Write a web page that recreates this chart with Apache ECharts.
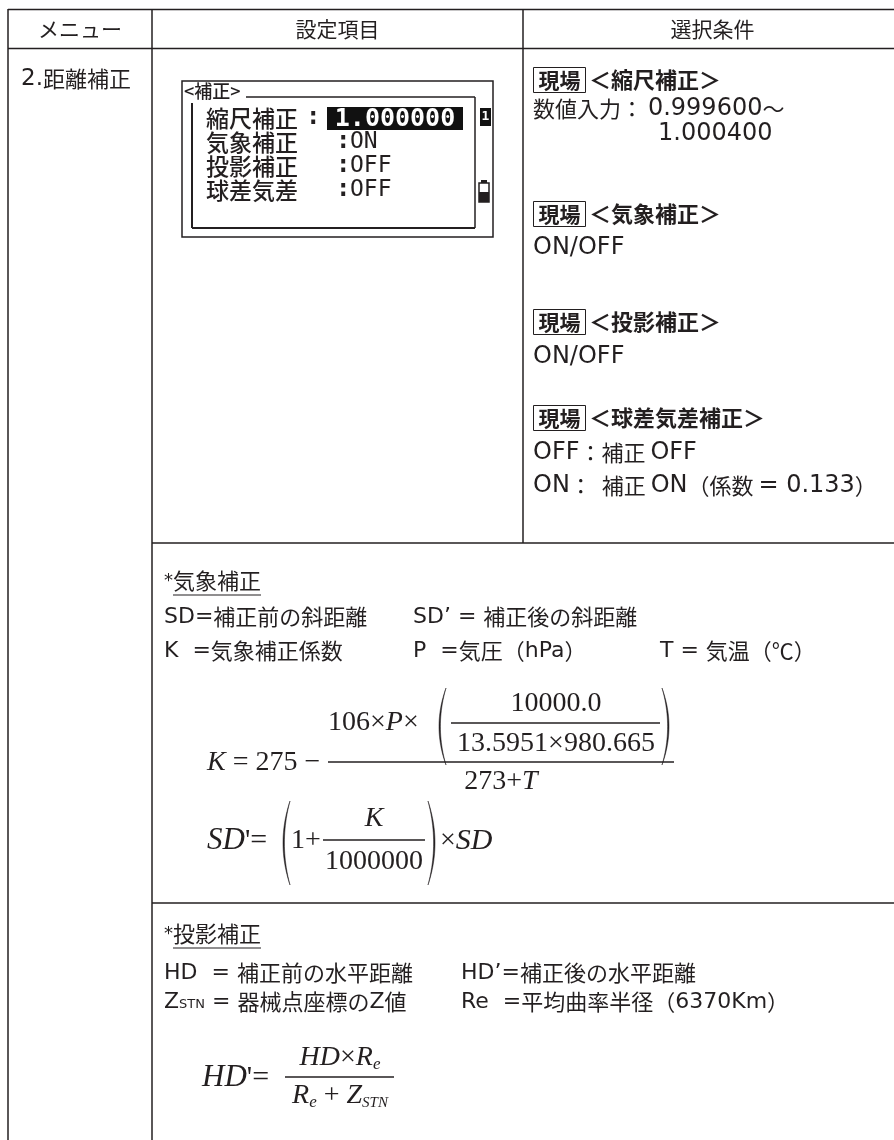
<!DOCTYPE html>
<html><head><meta charset="utf-8">
<script src="https://cdn.jsdelivr.net/npm/echarts@6/dist/echarts.min.js"></script>
<style>html,body{margin:0;padding:0;background:#fff}#c{width:894px;height:1140px}</style>
</head><body><div id="c"></div>
<script>
// ---------- content (text data) ----------
const headers = ['メニュー', '設定項目', '選択条件'];
const menuItems = ['2.距離補正'];
const lcdTitle = '<補正>';
const lcdLabels = ['縮尺補正', '気象補正', '投影補正', '球差気差'];
const lcdValues = ['1.000000', 'ON', 'OFF', 'OFF'];
const condTag = '現場';
const condTitles = ['＜縮尺補正＞', '＜気象補正＞', '＜投影補正＞', '＜球差気差補正＞'];
const condLines = [
  ['数値入力： 0.999600～', '1.000400'],
  ['ON/OFF'],
  ['ON/OFF'],
  ['OFF：補正 OFF', 'ON：  補正 ON（係数 = 0.133）']
];
const atmoTitle = ['*', '気象補正'];
const atmoDefs = [
  ['SD=補正前の斜距離', 'SD’ = 補正後の斜距離', ''],
  ['K  =気象補正係数', 'P  =気圧（hPa）', 'T = 気温（℃）']
];
const projTitle = ['*', '投影補正'];
const projDefs = [
  ['HD  = 補正前の水平距離', 'HD’=補正後の水平距離'],
  ['Z|STN| = 器械点座標のZ値', 'Re  =平均曲率半径（6370Km）']
];
const kFormula = { lhs: ['K', ' = 275 − '], pre: ['106×', 'P', '×'], num: '10000.0', den: '13.5951×980.665', bottom: ['273+', 'T'] };
const sdFormula = { lhs: ['SD', '\'', '='], one: '1+', num: 'K', den: '1000000', post: ['×', 'SD'] };
const hdFormula = { lhs: ['HD', '\'', '='] };

// ---------- drawing helpers ----------
const INK = '#231f20';
const ctx = document.createElement('canvas').getContext('2d');
function tw(t, f) { ctx.font = f; return ctx.measureText(t).width; }
const CJK = /[\u2100-\u214f\u3000-\u9fff\uff00-\uffef]/;
const JF = (s, w) => (w || 'normal') + ' ' + s + 'px "Noto Sans CJK JP"';
const LF = (s) => 'normal ' + s + 'px "DejaVu Sans"';
const RM = (s) => s + 'px "Liberation Serif"';
const IT = (s) => 'italic ' + s + 'px "Liberation Serif"';

function mixed(str, js, ls, w) {
  const segs = []; let cur = '', curC = null;
  for (const ch of str) {
    const c = CJK.test(ch) || (ch === ' ' && curC === true);
    if (curC !== null && c !== curC) { segs.push({ t: cur, f: curC ? JF(js, w) : LF(ls) }); cur = ''; }
    cur += ch; curC = c;
  }
  if (cur) segs.push({ t: cur, f: curC ? JF(js, w) : LF(ls) });
  return segs;
}
function seq(segs, x, y, align) {
  const ws = segs.map(s => tw(s.t, s.f));
  const total = ws.reduce((a, b) => a + b, 0);
  const left = align === 'center' ? x - total / 2 : align === 'right' ? x - total : x;
  let cx = left;
  const els = [];
  segs.forEach((s, i) => {
    els.push({ type: 'text', x: cx, y: y + (s.dy || 0), style: { text: s.t, font: s.f, fill: s.fill || INK, align: 'left', verticalAlign: 'middle' } });
    cx += ws[i];
  });
  els.width = total; els.left = left;
  return els;
}
function line(x1, y1, x2, y2, lw) { return { type: 'line', shape: { x1, y1, x2, y2 }, style: { stroke: INK, lineWidth: lw || 1.5 } }; }
function rect(x, y, w, h, fill, stroke, lw) { return { type: 'rect', shape: { x, y, width: w, height: h }, style: { fill: fill || 'none', stroke: stroke || 'none', lineWidth: lw || 1 } }; }
// crescent-shaped parenthesis as polygon: side -1 = "(", +1 = ")"
function paren(side, xEdge, yTop, yBot, bulge, thick) {
  const ym = (yTop + yBot) / 2;
  const q = (p0, c, p2, t) => (1 - t) * (1 - t) * p0 + 2 * (1 - t) * t * c + t * t * p2;
  const xo = xEdge + side * 2 * bulge, xi = xEdge + side * (2 * bulge - 2 * thick);
  const pts = [];
  const N = 24;
  for (let i = 0; i <= N; i++) { const t = i / N; pts.push([q(xEdge, xo, xEdge, t), q(yTop, ym, yBot, t)]); }
  for (let i = N; i >= 0; i--) { const t = i / N; pts.push([q(xEdge, xi, xEdge, t), q(yTop, ym, yBot, t)]); }
  return { type: 'polygon', shape: { points: pts }, style: { fill: INK, stroke: INK, lineWidth: 0.5 } };
}

const els = [];
// ---------- table grid ----------
const colX = [8, 152, 523, 894];
els.push(line(8, 9.5, 894, 9.5), line(8, 48.5, 894, 48.5));
els.push(line(8, 9, 8, 1140), line(152, 9, 152, 1140), line(523, 9, 523, 543));
els.push(line(152, 543, 894, 543), line(152, 903, 894, 903));

// headers
headers.forEach((h, i) => {
  els.push(...seq(mixed(h, 21, 21), (colX[i] + colX[i + 1]) / 2 + (i === 2 ? 4 : 0), 29, 'center'));
});
// menu
menuItems.forEach((m, i) => els.push(...seq(mixed(m, 22, 23), 21, 79 + i * 30, 'left')));

// ---------- LCD screen ----------
els.push(rect(182, 81, 311, 156, 'none', INK, 1.5));
els.push(...seq([{ t: lcdTitle, f: '500 18px "Noto Sans CJK JP"' }], 184, 91, 'left'));
els.push(line(246, 97, 475, 97, 1.5), line(475, 97, 475, 228, 1.5), line(192, 228, 475, 228, 2), line(192, 103, 192, 228, 2));
const lcdY = [118, 142, 166, 190];
lcdLabels.forEach((l, i) => {
  els.push(...seq([{ t: l, f: '500 23px "Noto Sans CJK JP"' }], 206, lcdY[i], 'left'));
  if (i === 0) {
    els.push(...seq([{ t: ':', f: 'bold 24px "DejaVu Sans Mono"' }], 306, lcdY[i], 'left'));
    els.push(rect(327, 107, 136, 23, '#111'));
    els.push(...seq([{ t: lcdValues[i], f: 'bold 25px "DejaVu Sans Mono"', fill: '#fff' }], 395, lcdY[i] + 1, 'center'));
  } else {
    els.push(...seq([{ t: ':', f: 'bold 24px "DejaVu Sans Mono"' }], 336, lcdY[i], 'left'));
    els.push(...seq([{ t: lcdValues[i], f: '23px "DejaVu Sans Mono"' }], 350, lcdY[i], 'left'));
  }
});
// indicator "1" and battery
els.push(rect(480, 108, 11, 18, '#111'));
els.push(...seq([{ t: '1', f: 'bold 13px "DejaVu Sans Mono"', fill: '#fff' }], 485.5, 117, 'center'));
els.push(rect(479, 183, 10, 19, 'none', INK, 1.5), rect(481, 180, 6, 3, INK), rect(479, 192, 10, 10, INK));

// ---------- conditions column ----------
const blockY = [80, 214, 322, 418];
const lineOff = [[29, 54], [34], [35], [35, 68]];
const indent = [[0, 125], [0], [0], [0, 0]];
condTitles.forEach((t, i) => {
  const y = blockY[i];
  els.push(rect(533.5, y - 12.5, 52, 25, 'none', INK, 1));
  els.push(...seq([{ t: condTag, f: JF(21, 'bold') }], 559.5, y, 'center'));
  els.push(...seq([{ t: t, f: JF(22, 'bold') }], 589, y, 'left'));
  condLines[i].forEach((s, j) => {
    els.push(...seq(mixed(s, 22, 24), 533 + indent[i][j], y + lineOff[i][j], 'left'));
  });
});

// ---------- atmospheric correction ----------
{
  const a = seq([{ t: atmoTitle[0], f: LF(18) }], 164, 581, 'left');
  els.push(...a);
  const b = seq(mixed(atmoTitle[1], 22, 22), 164 + a.width, 581, 'left');
  els.push(...b);
  els.push(line(b.left, 595, b.left + b.width, 595, 1.2));
}
const defX = [164, 413, 660];
atmoDefs.forEach((row, r) => row.forEach((s, c) => { if (s) els.push(...seq(mixed(s, 22, 22), defX[c], 617 + r * 34, 'left')); }));

// K formula
const FS = 28;
els.push(...seq([{ t: kFormula.lhs[0], f: IT(FS) }, { t: kFormula.lhs[1], f: RM(FS) }], 207, 763, 'left'));
els.push(line(328, 762, 674, 762, 1.5));
els.push(...seq([{ t: kFormula.pre[0], f: RM(FS) }, { t: kFormula.pre[1], f: IT(FS) }, { t: kFormula.pre[2], f: RM(FS) }], 328, 723, 'left'));
els.push(paren(-1, 446, 688, 765, 7, 1.4));
els.push(paren(1, 662, 688, 765, 7, 1.4));
els.push(...seq([{ t: kFormula.num, f: RM(FS) }], 556, 704, 'center'));
els.push(line(451, 723, 660, 723, 1.3));
els.push(...seq([{ t: kFormula.den, f: RM(FS) }], 556, 744, 'center'));
els.push(...seq([{ t: kFormula.bottom[0], f: RM(FS) }, { t: kFormula.bottom[1], f: IT(FS) }], 501, 782, 'center'));

// SD' formula
els.push(...seq([{ t: sdFormula.lhs[0], f: IT(31) }, { t: sdFormula.lhs[1], f: RM(30) }, { t: sdFormula.lhs[2], f: RM(30) }], 207, 841, 'left'));
els.push(paren(-1, 290, 801, 885, 7, 1.4));
els.push(...seq([{ t: sdFormula.one, f: RM(FS) }], 291, 841, 'left'));
els.push(line(323, 840, 425, 840, 1.3));
els.push(...seq([{ t: sdFormula.num, f: IT(FS) }], 374, 819, 'center'));
els.push(...seq([{ t: sdFormula.den, f: RM(FS) }], 374, 862, 'center'));
els.push(paren(1, 428, 801, 885, 7, 1.4));
els.push(...seq([{ t: sdFormula.post[0], f: RM(FS) }, { t: sdFormula.post[1], f: IT(30) }], 440, 841, 'left'));

// ---------- projection correction ----------
{
  const a = seq([{ t: projTitle[0], f: LF(18) }], 164, 934, 'left');
  els.push(...a);
  const b = seq(mixed(projTitle[1], 22, 22), 164 + a.width, 934, 'left');
  els.push(...b);
  els.push(line(b.left, 948, b.left + b.width, 948, 1.2));
}
const pdefX = [164, 461];
projDefs.forEach((row, r) => row.forEach((s, c) => {
  let segs;
  if (s.indexOf('|') >= 0) {
    const parts = s.split('|');
    segs = [{ t: parts[0], f: LF(22) }, { t: parts[1], f: LF(13), dy: 3 }].concat(mixed(parts[2], 22, 22));
  } else segs = mixed(s, 22, 22);
  els.push(...seq(segs, pdefX[c], 973 + r * 29, 'left'));
}));

// HD' formula
els.push(...seq([{ t: hdFormula.lhs[0], f: IT(31) }, { t: hdFormula.lhs[1], f: RM(30) }, { t: hdFormula.lhs[2], f: RM(30) }], 202, 1078, 'left'));
els.push(line(285, 1077, 394, 1077, 1.3));
els.push(...seq([{ t: 'HD', f: IT(FS) }, { t: '×', f: RM(FS) }, { t: 'R', f: IT(FS) }, { t: 'e', f: IT(17), dy: 7 }], 340, 1058, 'center'));
els.push(...seq([{ t: 'R', f: IT(FS) }, { t: 'e', f: IT(17), dy: 7 }, { t: ' + ', f: RM(FS) }, { t: 'Z', f: IT(FS) }, { t: 'STN', f: IT(15), dy: 7 }], 340, 1096, 'center'));

const chart = echarts.init(document.getElementById('c'), null, { renderer: 'canvas' });
chart.setOption({ backgroundColor: '#fff', animation: false, graphic: { elements: els } });
</script>
</body></html>
